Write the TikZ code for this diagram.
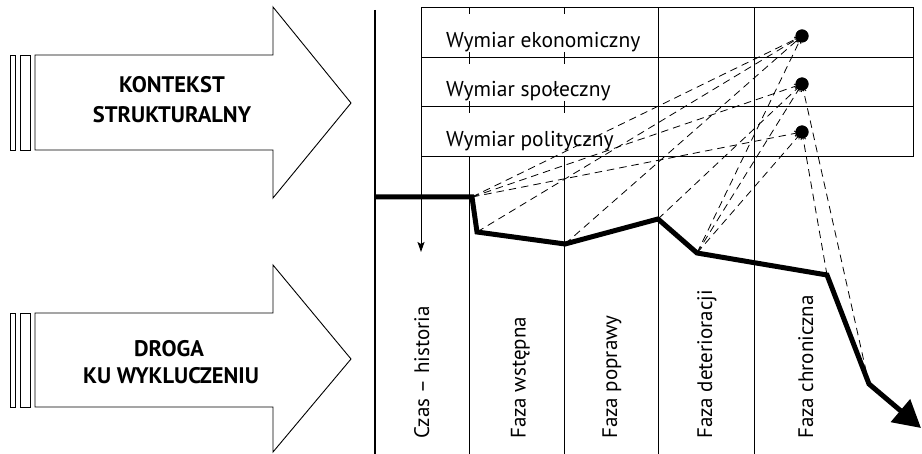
\documentclass[tikz,border=0pt]{standalone}
\usepackage{fontspec}
\setmainfont{PT Sans}
\usetikzlibrary{arrows.meta}
\begin{document}
\begin{tikzpicture}[x=1pt,y=-1pt,
  bigarrow/.style={draw=black, line width=0.9pt, fill=white, line join=miter},
  stripe/.style={draw=black, line width=0.9pt, fill=white},
  heading/.style={font=\bfseries\fontsize{22.5}{26}\selectfont, anchor=base, inner sep=0pt},
  tableline/.style={draw=black, line width=1pt},
  dimlabel/.style={font=\fontsize{21.5}{25}\selectfont, anchor=base west, inner sep=0pt},
  phase/.style={font=\fontsize{21}{25}\selectfont, anchor=base west, inner sep=0pt, rotate=90},
  trail/.style={line width=5pt, line join=miter},
  link/.style={dash pattern=on 7.5pt off 5pt, line width=0.8pt, -{Straight Barb[length=3pt,width=5pt]}, shorten >=4pt},
  dotnode/.style={circle, fill=black, minimum size=13pt, inner sep=0pt},
]
\useasboundingbox (0,0) rectangle (922,454);

% left block arrows
\draw[stripe] (10.7,55) rectangle (15.7,150);
\draw[stripe] (20,55) rectangle (30.7,150);
\draw[bigarrow] (35,55) -- (273,55) -- (273,7) -- (351,103) -- (273,198) -- (273,150) -- (35,150) -- cycle;
\draw[stripe] (10.7,313) rectangle (15.7,407);
\draw[stripe] (20,313) rectangle (30.7,407);
\draw[bigarrow] (35,313) -- (273,313) -- (273,265) -- (351,359) -- (273,452) -- (273,407) -- (35,407) -- cycle;

\node[heading] (k1) at (172,93) {KONTEKST};
\node[heading] (k2) at (172,123) {STRUKTURALNY};
\node[heading] (k3) at (169,357) {DROGA};
\node[heading] (k4) at (171,384) {KU WYKLUCZENIU};

% grid
\draw[tableline, line width=1.3pt] (375,10) -- (375,454);
\draw[tableline] (421,8) rectangle (913,157);
\draw[tableline] (421,58) -- (913,58);
\draw[tableline] (421,107) -- (913,107);
\draw[tableline] (658,8) -- (658,454);
\draw[tableline] (754,8) -- (754,454);
\foreach \cx in {469,564} {
  \draw[tableline] (\cx,157) -- (\cx,454);
  \draw[tableline] (\cx,8) -- (\cx,14);
  \draw[tableline] (\cx,52) -- (\cx,64);
  \draw[tableline] (\cx,101) -- (\cx,113);
}
\draw[tableline, -{Stealth[length=10pt,width=7pt,inset=2pt]}] (421,157) -- (421,252);

\node[dimlabel] (w1) at (446,48) {Wymiar ekonomiczny};
\node[dimlabel] (w2) at (446,97) {Wymiar społeczny};
\node[dimlabel] (w3) at (446,147) {Wymiar polityczny};

\node[phase] (c0) at (429,439) {Czas – historia};
\node[phase] (c1) at (525.5,439) {Faza wstępna};
\node[phase] (c2) at (617,439) {Faza poprawy};
\node[phase] (c3) at (712,439) {Faza deterioracji};
\node[phase] (c4) at (813,439) {Faza chroniczna};

% trajectory points
\coordinate (p0) at (375,197);
\coordinate (p1) at (472,197);
\coordinate (p2) at (477,232);
\coordinate (p3) at (565,244);
\coordinate (p4) at (658,219);
\coordinate (p5) at (697,253);
\coordinate (p6) at (827,275);
\coordinate (p7) at (869,384);
\coordinate (p8) at (921,428);

\node[dotnode] (d1) at (802,36) {};
\node[dotnode] (d2) at (802,84) {};
\node[dotnode] (d3) at (802,132) {};

% dashed links
\draw[link] (p1) -- (d1.center);
\draw[link] (p1) -- (d2.center);
\draw[link] (p1) -- (d3.center);
\draw[link] (p2) -- (d1.center);
\draw[link] (p3) -- (d1.center);
\draw[link] (p4) -- (d2.center);
\draw[link] (p5) -- (d1.center);
\draw[link] (p5) -- (d2.center);
\draw[link] (p5) -- (d3.center);
\draw[link] (p6) -- (d3.center);
\draw[link] (p7) -- (d2.center);

% redraw dots on top
\fill (d1) circle (6.5pt);
\fill (d2) circle (6.5pt);
\fill (d3) circle (6.5pt);

% thick trajectory
\draw[trail, -{Triangle[length=27pt,width=29pt]}] (p0) -- (p1) -- (p2) -- (p3) -- (p4) -- (p5) -- (p6) -- (p7) -- (p8);
\end{tikzpicture}
\end{document}
